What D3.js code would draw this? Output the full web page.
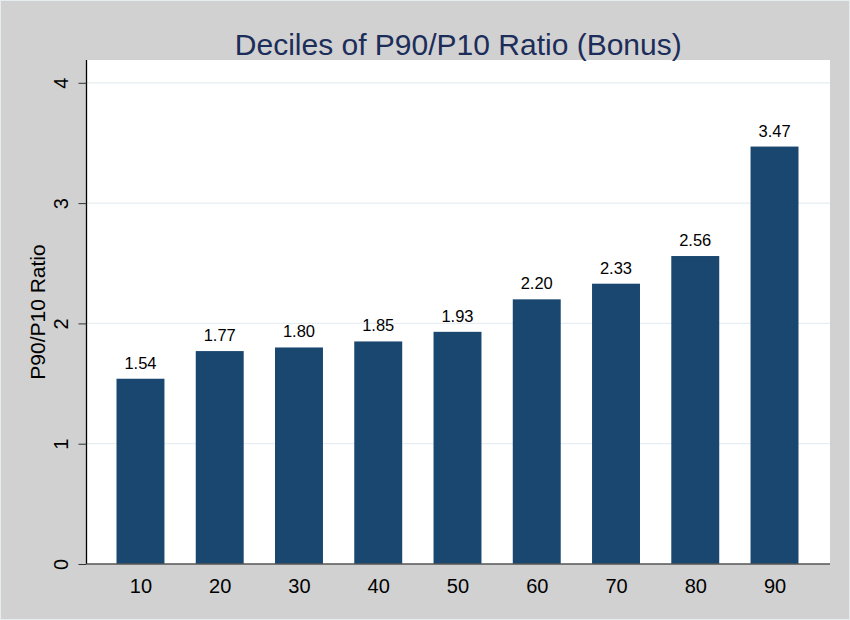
<!DOCTYPE html>
<html><head><meta charset="utf-8">
<script src="https://cdn.jsdelivr.net/npm/d3@7"></script>
<style>body{margin:0;background:#d1d1d1;}svg{display:block;font-family:"Liberation Sans",Arial,sans-serif;}</style>
</head><body><svg id="c" width="850" height="620"></svg>
<script>
const categories = [10,20,30,40,50,60,70,80,90];
const values = [1.54,1.77,1.80,1.85,1.93,2.20,2.33,2.56,3.47];
const yTicks = [0,1,2,3,4];
const xTicks = [10,20,30,40,50,60,70,80,90];
const titleText = "Deciles of P90/P10 Ratio (Bonus)";
const yTitle = "P90/P10 Ratio";

const svg = d3.select("#c");
const W=850,H=620;
svg.append("rect").attr("width",W).attr("height",H).attr("fill","#d1d1d1");
svg.append("rect").attr("x",0.5).attr("y",0.5).attr("width",W-1).attr("height",H-1).attr("fill","none").attr("stroke","#e6edef").attr("stroke-width",1);

const L=86.5,R=830,T=60,B=564;
const x = d3.scaleLinear().domain([3.19,97.0]).range([L,R]);
const y = d3.scaleLinear().domain([0,4]).range([B,82.8]);
const barW = x(16.05)-x(10);

svg.append("rect").attr("x",L).attr("y",T).attr("width",R-L).attr("height",B-T).attr("fill","#ffffff");

svg.append("g").selectAll("line").data(yTicks.filter(d=>d>0)).join("line")
  .attr("x1",L).attr("x2",R).attr("y1",d=>y(d)).attr("y2",d=>y(d))
  .attr("stroke","#e6eef1").attr("stroke-width",1.3);

svg.append("g").selectAll("rect").data(values).join("rect")
  .attr("x",(d,i)=>x(categories[i])-barW/2).attr("width",barW)
  .attr("y",d=>y(d)).attr("height",d=>y(0)-y(d))
  .attr("fill","#1a476f");

svg.append("g").selectAll("text").data(values).join("text")
  .attr("x",(d,i)=>x(categories[i])).attr("y",d=>y(d)-10)
  .attr("text-anchor","middle").attr("font-size",16.5).attr("fill","#000")
  .text(d=>d.toFixed(2));

// axes
const yAxis = d3.axisLeft(y).tickValues(yTicks).tickSize(8).tickFormat(d3.format("d"));
const gy = svg.append("g").attr("transform",`translate(${L},0)`).call(yAxis);
gy.select(".domain").attr("stroke","#000").attr("stroke-width",1.3).attr("d",`M0,${T}V${B}`);
gy.selectAll(".tick line").attr("stroke","#333");
gy.selectAll(".tick text").attr("font-size",20).attr("fill","#000")
  .attr("x",null).attr("y",0).attr("dy","0")
  .attr("text-anchor","middle")
  .attr("transform","translate(-18.5,0) rotate(-90)");

const xAxis = d3.axisBottom(x).tickValues(xTicks).tickSize(0).tickPadding(0).tickFormat(d3.format("d"));
const gx = svg.append("g").attr("transform",`translate(0,${B})`).call(xAxis);
gx.select(".domain").attr("stroke","#555").attr("stroke-width",1.3).attr("d",`M${L},0H${R}`);
gx.selectAll(".tick text").attr("font-size",20).attr("fill","#000").attr("y",29).attr("dy","0");

svg.append("text").attr("transform",`translate(45,${(T+B)/2}) rotate(-90)`)
  .attr("text-anchor","middle").attr("font-size",21).attr("fill","#000").text(yTitle);

svg.append("text").attr("x",(L+R)/2).attr("y",55).attr("text-anchor","middle")
  .attr("font-size",30).attr("fill","#1c2d5a").text(titleText);
</script></body></html>
